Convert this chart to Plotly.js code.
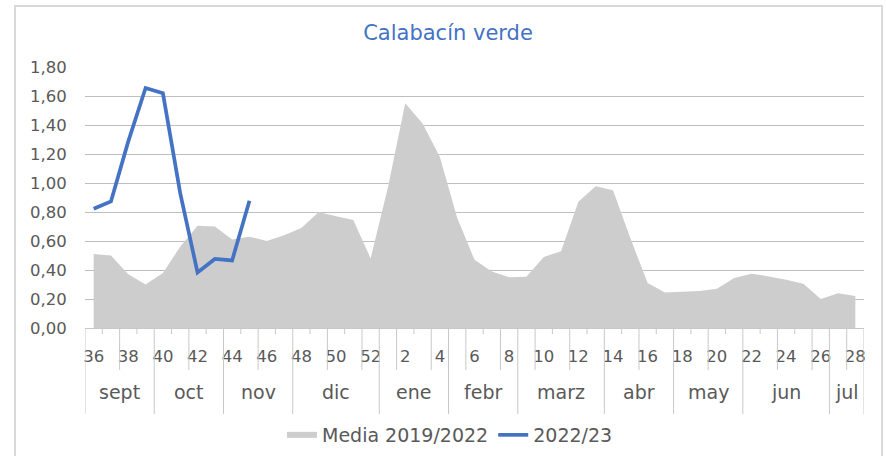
<!DOCTYPE html>
<html><head><meta charset="utf-8">
<script src="https://cdn.plot.ly/plotly-3.0.1.min.js"></script>
<style>body{margin:0;background:#fff}#chart{width:886px;height:456px}</style>
</head><body><div id="chart"></div>
<script>
const weeks = [36,37,38,39,40,41,42,43,44,45,46,47,48,49,50,51,52,1,2,3,4,5,6,7,8,9,10,11,12,13,14,15,16,17,18,19,20,21,22,23,24,25,26,27,28];
const media = [0.51,0.50,0.37,0.30,0.38,0.56,0.705,0.70,0.61,0.63,0.60,0.64,0.69,0.80,0.77,0.745,0.48,0.97,1.55,1.41,1.18,0.76,0.47,0.39,0.35,0.354,0.49,0.53,0.87,0.977,0.95,0.62,0.31,0.245,0.25,0.255,0.27,0.345,0.375,0.356,0.333,0.305,0.20,0.24,0.22];
const serie2223 = [0.823,0.873,1.287,1.655,1.62,0.93,0.383,0.476,0.466,0.878];
const months = ['sept','oct','nov','dic','ene','febr','marz','abr','may','jun','jul'];
const monthWeeks = [4,4,4,5,4,4,5,4,4,5,2];
const seriesNames = ['Media 2019/2022','2022/23'];
const chartTitle = 'Calabacín verde';

const idx = weeks.map((w,i)=>i);
const tickvals = idx.filter(i=>i%2===0);
const ticktext = tickvals.map(i=>String(weeks[i]));

const H = 261; // plot height px
const M = {l:85,r:22,t:67,b:128};
const W = 886 - M.l - M.r;

// month boundaries
const monthBounds = [0];
monthWeeks.forEach(n=>monthBounds.push(monthBounds[monthBounds.length-1]+n));

const shapes = [];
for (let b=0;b<=weeks.length;b++){
  let px;
  if (monthBounds.includes(b)) px = 86;
  else if (b%2===0) px = 42;
  else px = 6;
  shapes.push({type:'line',xref:'x',yref:'paper',x0:b-0.5,x1:b-0.5,y0:0,y1:-px/H,
    line:{color:'#c8c8c8',width:1}});
}
shapes.push({type:'rect',xref:'paper',yref:'paper',
  x0:(15-M.l)/W,x1:(882-M.l)/W,y0:(328-480)/H,y1:(328-6)/H,
  line:{color:'#d9d9d9',width:2},fillcolor:'rgba(0,0,0,0)'});

const annotations = months.map((m,k)=>({
  text:m,xref:'x',yref:'paper',x:(monthBounds[k]+monthBounds[k+1])/2-0.5,y:0,
  yanchor:'middle',xanchor:'center',yshift:-64,showarrow:false,
  font:{family:'DejaVu Sans',size:19,color:'#595959'}
}));

const traces = [
  {x:idx,y:media,type:'scatter',mode:'none',fill:'tozeroy',fillcolor:'#cdcdcd',name:seriesNames[0],hoverinfo:'skip'},
  {x:idx.slice(0,serie2223.length),y:serie2223,type:'scatter',mode:'lines',line:{color:'#4472C4',width:3.7},name:seriesNames[1]}
];

const layout = {
  width:886,height:456,margin:M,
  paper_bgcolor:'#fff',plot_bgcolor:'#fff',
  separators:',.',
  font:{family:'DejaVu Sans',color:'#595959',size:16},
  title:{text:chartTitle,font:{family:'DejaVu Sans',size:21,color:'#4472C4'},
    xref:'container',x:448/886,xanchor:'center',yref:'container',y:1-33/456,yanchor:'middle'},
  xaxis:{range:[-0.5,weeks.length-0.5],tickmode:'array',tickvals:tickvals,ticktext:ticktext,
    tickangle:0,ticks:'outside',ticklen:13,tickcolor:'rgba(0,0,0,0)',showgrid:false,
    showline:true,linecolor:'#c8c8c8',linewidth:1,zeroline:false,automargin:false,
    tickfont:{size:16.5,color:'#595959'},fixedrange:true},
  yaxis:{range:[0,1.8],tick0:0,dtick:0.2,tickformat:'.2f',gridcolor:'#bfbfbf',gridwidth:1,
    showline:false,zeroline:false,ticks:'outside',ticklen:14,tickcolor:'rgba(0,0,0,0)',automargin:false,
    tickfont:{size:16.5,color:'#595959'},fixedrange:true},
  showlegend:true,
  legend:{orientation:'h',xref:'container',x:450/886,xanchor:'center',yref:'container',y:1-416/456,yanchor:'top',
    font:{size:19,color:'#595959'},bgcolor:'rgba(0,0,0,0)'},
  shapes:shapes,annotations:annotations
};
Plotly.newPlot('chart',traces,layout,{displayModeBar:false,staticPlot:true});
</script></body></html>
